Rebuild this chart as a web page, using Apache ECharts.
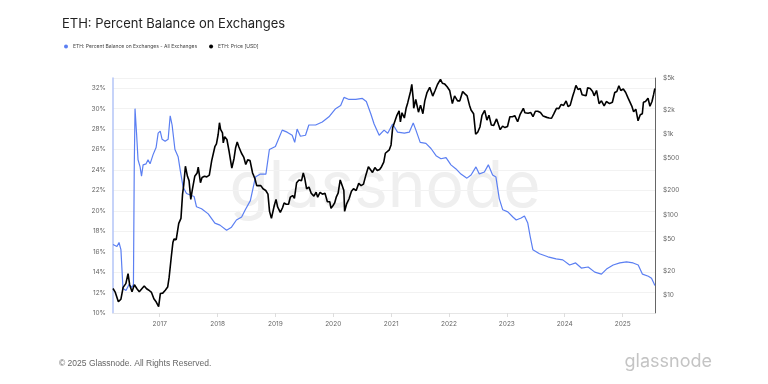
<!DOCTYPE html>
<html>
<head>
<meta charset="utf-8">
<script src="https://cdn.jsdelivr.net/npm/echarts@6/dist/echarts.min.js"></script>
<style>
html,body{margin:0;padding:0;background:#fff;}
#c{width:768px;height:384px;}
</style>
</head>
<body>
<div id="c"></div>
<script>
// ---------- DATA ----------
var balDates = ['2016-03-12','2016-04-06','2016-04-19','2016-05-01','2016-05-14','2016-06-02','2016-06-21','2016-07-09','2016-07-19','2016-07-24','2016-07-29','2016-08-08','2016-08-17','2016-08-30','2016-09-08','2016-09-18','2016-10-07','2016-10-19','2016-11-01','2016-11-20','2016-12-09','2016-12-22','2017-01-04','2017-01-16','2017-02-04','2017-02-23','2017-03-08','2017-03-20','2017-04-07','2017-04-27','2017-05-10','2017-05-29','2017-06-19','2017-07-20','2017-08-06','2017-08-21','2017-09-22','2017-11-03','2017-12-15','2018-01-16','2018-02-27','2018-03-30','2018-04-30','2018-06-02','2018-06-25','2018-07-27','2018-08-28','2018-09-28','2018-11-02','2018-11-24','2019-01-01','2019-02-13','2019-03-16','2019-04-17','2019-05-03','2019-05-18','2019-06-08','2019-07-10','2019-07-31','2019-09-12','2019-10-24','2019-12-05','2020-01-16','2020-02-17','2020-03-09','2020-04-10','2020-05-22','2020-07-03','2020-07-28','2020-08-25','2020-09-15','2020-10-17','2020-11-17','2020-12-10','2021-01-10','2021-02-10','2021-03-25','2021-04-25','2021-05-20','2021-06-06','2021-07-03','2021-08-08','2021-09-09','2021-10-11','2021-11-11','2021-12-13','2022-01-13','2022-02-14','2022-03-17','2022-04-24','2022-05-20','2022-06-20','2022-07-11','2022-08-12','2022-09-06','2022-10-03','2022-10-24','2022-11-14','2022-12-06','2023-01-07','2023-02-08','2023-03-01','2023-04-01','2023-04-22','2023-05-13','2023-05-28','2023-06-14','2023-07-26','2023-09-17','2023-11-08','2023-12-20','2024-02-01','2024-03-10','2024-04-15','2024-05-28','2024-07-09','2024-08-20','2024-09-21','2024-11-02','2024-12-14','2025-01-25','2025-03-08','2025-04-09','2025-05-06','2025-06-12','2025-07-02','2025-07-17','2025-07-23'];
var balValues = [16.7,16.5,16.9,16.2,12.4,12.2,12.8,12.5,12.8,24,30.0,27.5,25.0,24.3,23.4,24.5,24.6,25.0,24.6,25.5,26.2,27.6,27.8,27.0,26.8,27.0,29.3,28.4,26.0,25.3,24.0,22.3,21.7,21.5,21.4,20.4,20.2,19.7,18.8,18.6,18.1,18.4,19.1,19.4,20.1,21.0,23.3,23.6,23.6,26.0,26.3,27.9,27.7,27.4,26.7,28.0,27.3,27.4,28.4,28.4,28.7,29.2,30.0,30.3,31.1,30.9,30.9,31.0,30.7,29.5,28.5,27.4,27.9,27.6,28.5,27.7,27.6,27.7,28.6,27.9,26.7,26.6,26.1,25.4,25.1,25.2,24.5,24.1,23.6,23.2,23.5,24.3,23.6,23.8,24.5,23.5,23.3,21.2,20.1,19.9,19.4,19.1,19.3,19.5,18.8,17.5,16.2,15.8,15.5,15.3,15.2,14.7,14.9,14.4,14.5,14.0,13.8,14.3,14.7,14.9,15.0,14.9,14.7,13.8,13.6,13.4,12.9,12.7];

var priceDates = ['2016-03-12','2016-03-25','2016-04-01','2016-04-15','2016-05-01','2016-05-15','2016-06-01','2016-06-15','2016-06-25','2016-07-10','2016-07-25','2016-08-10','2016-08-25','2016-09-10','2016-09-25','2016-10-10','2016-10-25','2016-11-10','2016-11-25','2016-12-10','2016-12-25',
'2017-01-05','2017-01-20','2017-02-05','2017-02-20','2017-03-01','2017-03-15','2017-03-25','2017-04-01','2017-04-15','2017-05-01','2017-05-15','2017-05-25','2017-06-01','2017-06-12','2017-06-25','2017-07-05','2017-07-16','2017-07-25','2017-08-10','2017-08-25','2017-09-01','2017-09-15','2017-09-25','2017-10-10','2017-10-25','2017-11-10','2017-11-25','2017-12-05','2017-12-15','2017-12-25',
'2018-01-05','2018-01-13','2018-01-20','2018-02-01','2018-02-06','2018-02-15','2018-03-01','2018-03-15','2018-04-01','2018-04-15','2018-04-25','2018-05-05','2018-05-15','2018-06-01','2018-06-15','2018-06-28','2018-07-10','2018-07-25','2018-08-10','2018-08-25','2018-09-05','2018-09-15','2018-10-01','2018-10-15','2018-11-01','2018-11-15','2018-11-25','2018-12-07','2018-12-15','2018-12-25',
'2019-01-05','2019-01-15','2019-02-01','2019-02-15','2019-02-25','2019-03-10','2019-03-25','2019-04-05','2019-04-20','2019-05-01','2019-05-15','2019-05-30','2019-06-15','2019-06-26','2019-07-05','2019-07-17','2019-08-01','2019-08-15','2019-09-01','2019-09-15','2019-09-25','2019-10-10','2019-10-25','2019-11-10','2019-11-25','2019-12-10','2019-12-18','2019-12-31',
'2020-01-10','2020-01-20','2020-02-01','2020-02-14','2020-02-28','2020-03-08','2020-03-13','2020-03-25','2020-04-10','2020-04-25','2020-05-08','2020-05-25','2020-06-10','2020-06-25','2020-07-10','2020-07-25','2020-08-10','2020-08-20','2020-09-05','2020-09-20','2020-10-05','2020-10-20','2020-11-01','2020-11-15','2020-11-25','2020-12-05','2020-12-20','2020-12-31',
'2021-01-10','2021-01-20','2021-02-05','2021-02-20','2021-02-28','2021-03-10','2021-03-25','2021-04-05','2021-04-15','2021-05-03','2021-05-11','2021-05-20','2021-05-23','2021-06-05','2021-06-22','2021-07-05','2021-07-20','2021-08-01','2021-08-15','2021-09-01','2021-09-20','2021-10-05','2021-10-20','2021-11-08','2021-11-20','2021-12-05','2021-12-20',
'2022-01-05','2022-01-22','2022-02-05','2022-02-24','2022-03-10','2022-03-28','2022-04-10','2022-04-25','2022-05-10','2022-05-20','2022-06-05','2022-06-18','2022-07-01','2022-07-15','2022-07-28','2022-08-14','2022-08-28','2022-09-10','2022-09-25','2022-10-10','2022-10-28','2022-11-07','2022-11-10','2022-11-20','2022-12-05','2022-12-20',
'2023-01-05','2023-01-20','2023-02-05','2023-02-20','2023-03-10','2023-03-25','2023-04-15','2023-04-25','2023-05-15','2023-06-01','2023-06-15','2023-06-30','2023-07-15','2023-08-01','2023-08-18','2023-09-10','2023-09-25','2023-10-10','2023-10-25','2023-11-10','2023-11-25','2023-12-10','2023-12-25',
'2024-01-10','2024-01-23','2024-02-05','2024-02-20','2024-03-01','2024-03-12','2024-03-25','2024-04-08','2024-04-20','2024-05-01','2024-05-15','2024-05-25','2024-06-10','2024-06-25','2024-07-05','2024-07-20','2024-08-05','2024-08-20','2024-09-06','2024-09-20','2024-10-10','2024-10-28','2024-11-12','2024-11-25','2024-12-08','2024-12-20',
'2025-01-05','2025-01-20','2025-02-03','2025-02-15','2025-03-01','2025-03-11','2025-03-25','2025-04-08','2025-04-22','2025-05-05','2025-05-12','2025-05-25','2025-06-10','2025-06-22','2025-07-05','2025-07-15','2025-07-23'];
var priceValues = [12.1,11,11.5,8.3,8.9,12.5,13.9,18.5,13.5,11,13.5,12,11,12,13,12,11.5,10.8,9,8.2,7.2,
10.5,10.6,11.5,12.6,16.5,30,45,50,49,78,90,180,230,400,300,265,155,200,300,330,390,250,290,300,295,310,470,460,700,760,
1000,1390,1150,1040,780,930,860,610,380,500,680,800,700,580,520,420,480,470,330,280,230,220,230,210,200,180,110,90,85,130,
155,125,107,122,140,135,135,165,173,160,250,270,265,330,285,210,220,185,170,190,165,190,180,185,145,145,120,130,
140,165,185,270,225,200,110,135,158,195,210,200,245,230,240,310,395,415,335,385,355,365,395,450,580,600,640,737,
1200,1250,1700,1950,1420,1850,1590,2100,2450,3400,4170,2750,2100,2700,1880,2300,1800,2600,3300,3830,2980,3500,4150,4810,4300,4200,3900,
3500,2400,3000,2600,2600,3400,3200,3000,2300,2000,1800,1000,1060,1230,1720,1980,1500,1720,1300,1290,1550,1570,1300,1140,1260,1210,
1250,1650,1650,1700,1430,1750,2100,1850,1820,1860,1650,1930,1930,1860,1680,1620,1590,1580,1800,2100,2080,2350,2280,
2590,2200,2300,2950,3400,4050,3600,3700,3100,2970,3000,3780,3700,3400,3000,3500,2400,2600,2250,2550,2400,2500,3300,3400,4000,3500,
3650,3300,2850,2700,2200,1900,2050,1470,1750,1800,2500,2550,2800,2230,2550,3100,3700];

var priceTicks = [10,20,50,100,200,500,1000,2000,5000];
var priceTickLabels = ['$10','$20','$50','$100','$200','$500','$1k','$2k','$5k'];

var seriesNames = ['ETH: Percent Balance on Exchanges - All Exchanges','ETH: Price [USD]'];

// ---------- BUILD ----------
var balData = balDates.map(function(d,i){ return [d, balValues[i]]; });
var priceData = priceDates.map(function(d,i){ return [d, priceValues[i]]; });
var YEAR = 365 * 24 * 3600 * 1000;

var chart = echarts.init(document.getElementById('c'), null, {renderer:'canvas'});
var FONT = 'Inter, "Noto Sans", sans-serif';
chart.setOption({
  animation: false,
  backgroundColor: '#ffffff',
  title: {
    text: 'ETH: Percent Balance on Exchanges',
    left: 57, top: 13,
    textStyle: {fontFamily: FONT, fontSize: 13, fontWeight: 'normal', color: '#222'}
  },
  legend: {
    left: 59, top: 39,
    icon: 'circle', itemWidth: 4, itemHeight: 4, itemGap: 12,
    textStyle: {fontFamily: FONT, fontSize: 5, color: '#444'},
    data: seriesNames
  },
  grid: {left: 113, right: 113, top: 78, bottom: 71},
  xAxis: {
    type: 'time',
    min: '2016-03-12', max: '2025-07-24',
    minInterval: YEAR, maxInterval: YEAR + 2 * 24 * 3600 * 1000,
    axisLine: {show: true, lineStyle: {color: '#e6e6e6', width: 1}},
    axisTick: {show: true, length: 4, lineStyle: {color: '#dddddd'}},
    axisLabel: {
      formatter: '{yyyy}',
      hideOverlap: false,
      fontFamily: FONT, fontSize: 6.5, color: '#666', margin: 8
    },
    splitLine: {show: false}
  },
  yAxis: [
    {
      type: 'value', min: 10, max: 33, interval: 2, position: 'left',
      axisLine: {show: true, lineStyle: {color: '#b3c4f7', width: 1.5}},
      axisTick: {show: false},
      axisLabel: {
        showMaxLabel: false,
        formatter: function(v){ return v + '%'; },
        fontFamily: FONT, fontSize: 6.5, color: '#666', margin: 7
      },
      splitLine: {show: true, lineStyle: {color: '#f2f2f2', width: 1}}
    },
    {
      type: 'log', logBase: 10, min: 6, max: 5000, position: 'right',
      axisLine: {show: true, lineStyle: {color: '#666', width: 1}},
      axisTick: {show: false},
      axisLabel: {
        customValues: priceTicks,
        formatter: function(v){
          var i = priceTicks.indexOf(Math.round(v));
          return i >= 0 ? priceTickLabels[i] : '';
        },
        fontFamily: FONT, fontSize: 6.5, color: '#666', margin: 8
      },
      splitLine: {show: false}
    }
  ],
  graphic: [
    {type: 'text', z: -10, silent: true,
     style: {text: 'glassnode', x: 385, y: 188, align: 'center', verticalAlign: 'middle',
             font: '64px ' + FONT, fill: '#efefef'}},
    {type: 'text', silent: true,
     style: {text: '\u00a9 2025 Glassnode. All Rights Reserved.', x: 59, y: 364, verticalAlign: 'middle',
             font: '8.5px "Liberation Sans", Arial, sans-serif', fill: '#666'}},
    {type: 'text', silent: true,
     style: {text: 'glassnode', x: 712, y: 362, align: 'right', verticalAlign: 'middle',
             font: '18px ' + FONT, fill: '#c4c4c4'}}
  ],
  series: [
    {
      name: seriesNames[0], type: 'line', yAxisIndex: 0, showSymbol: false, z: 3,
      data: balData,
      lineStyle: {color: '#5b7ff2', width: 1.2},
      itemStyle: {color: '#5b7ff2'}
    },
    {
      name: seriesNames[1], type: 'line', yAxisIndex: 1, showSymbol: false, z: 4,
      data: priceData,
      lineStyle: {color: '#000000', width: 1.6},
      itemStyle: {color: '#000000'}
    }
  ]
});
</script>
</body>
</html>
